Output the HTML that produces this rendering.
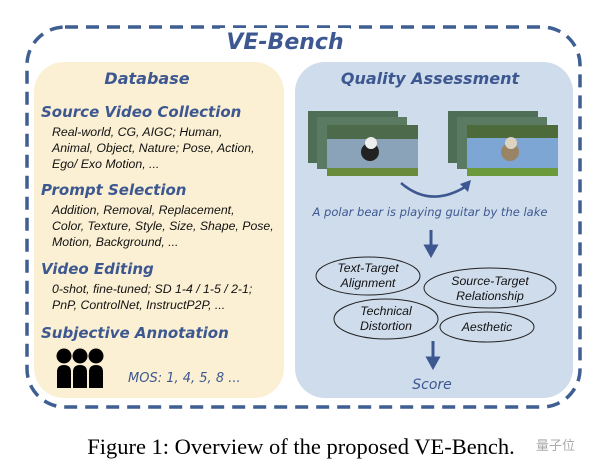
<!DOCTYPE html>
<html><head><meta charset="utf-8"><style>
body{margin:0;background:#fff;width:600px;height:470px;overflow:hidden}
svg{display:block}
.h{font-family:"DejaVu Sans",sans-serif;font-style:italic;font-weight:bold;fill:#3d5891}
.n{font-family:"DejaVu Sans",sans-serif;font-style:italic;font-weight:normal;fill:#3d5891}
.b{font-family:"Liberation Sans",sans-serif;font-style:italic;fill:#111;font-size:12.3px}
</style></head><body>
<svg width="600" height="470" viewBox="0 0 600 470">
<rect x="27" y="27" width="553" height="380" rx="38" fill="none" stroke="#3f5f93" stroke-width="3.5" stroke-dasharray="13,8"/>
<rect x="220" y="28" width="130" height="20" fill="#fff"/>
<text x="285" y="49" text-anchor="middle" class="h" font-size="22">VE-Bench</text>
<rect x="34" y="62" width="250" height="336" rx="30" fill="#fbf0d3"/>
<rect x="295" y="62" width="278" height="336" rx="30" fill="#cfdcec"/>
<text x="147" y="84" text-anchor="middle" class="h" font-size="16">Database</text>
<text x="41" y="117" class="h" font-size="15">Source Video Collection</text>
<text x="52" y="136" class="b">Real-world, CG, AIGC; Human,</text>
<text x="52" y="152" class="b">Animal, Object, Nature; Pose, Action,</text>
<text x="52" y="168" class="b">Ego/ Exo Motion, ...</text>
<text x="41" y="195" class="h" font-size="15">Prompt Selection</text>
<text x="52" y="214" class="b">Addition, Removal, Replacement,</text>
<text x="52" y="230" class="b">Color, Texture, Style, Size, Shape, Pose,</text>
<text x="52" y="246" class="b">Motion, Background, ...</text>
<text x="41" y="274" class="h" font-size="15">Video Editing</text>
<text x="52" y="293" class="b">0-shot, fine-tuned; SD 1-4 / 1-5 / 2-1;</text>
<text x="52" y="309" class="b">PnP, ControlNet, InstructP2P, ...</text>
<text x="41" y="338" class="h" font-size="15">Subjective Annotation</text>
<g fill="#000">
<circle cx="64" cy="356" r="7.5"/><circle cx="80" cy="356" r="7.5"/><circle cx="96" cy="356" r="7.5"/>
<path d="M57 388V372q0-7 7-7h0q7 0 7 7V388z"/><path d="M73 388V372q0-7 7-7q7 0 7 7V388z"/><path d="M89 388V372q0-7 7-7q7 0 7 7V388z"/>
</g>
<text x="128" y="382" class="n" font-size="13">MOS: 1, 4, 5, 8 ...</text>
<text x="430" y="84" text-anchor="middle" class="h" font-size="16">Quality Assessment</text>
<g>
<rect x="308" y="111" width="90" height="52" fill="#4e6f56"/>
<rect x="317" y="117" width="90" height="52" fill="#5a7a62"/>
<rect x="327" y="125" width="91" height="51" fill="#8aa3b8"/>
<rect x="327" y="125" width="91" height="14" fill="#4d6a4a"/>
<rect x="327" y="168" width="91" height="8" fill="#6a8a3c"/>
<circle cx="370" cy="152" r="9" fill="#222"/><circle cx="371" cy="143" r="6" fill="#eee"/>
<rect x="448" y="111" width="90" height="52" fill="#4e6f56"/>
<rect x="457" y="117" width="90" height="52" fill="#5a7a62"/>
<rect x="467" y="125" width="91" height="51" fill="#7ea6d4"/>
<rect x="467" y="125" width="91" height="13" fill="#4d6a3a"/>
<rect x="467" y="168" width="91" height="8" fill="#6a9a3c"/>
<circle cx="510" cy="152" r="9" fill="#9a8466"/><circle cx="511" cy="143" r="6" fill="#ddd4c0"/>
</g>
<path d="M401 183Q430 208 465 187" fill="none" stroke="#3d5891" stroke-width="2.5"/>
<path d="M471 180L460 184L468 192Z" fill="#3d5891"/>
<text x="430" y="216" text-anchor="middle" class="n" font-size="11.5">A polar bear is playing guitar by the lake</text>
<path d="M431 230V248M426 246L431 255L436 246Z" stroke="#3d5891" stroke-width="3" fill="#3d5891"/>
<g fill="none" stroke="#222" stroke-width="1">
<ellipse cx="368" cy="276" rx="52" ry="19"/>
<ellipse cx="490" cy="288" rx="66" ry="20"/>
<ellipse cx="386" cy="319" rx="52" ry="20"/>
<ellipse cx="487" cy="327" rx="47" ry="15"/>
</g>
<g class="b" font-size="12" text-anchor="middle">
<text x="368" y="272">Text-Target</text><text x="368" y="287">Alignment</text>
<text x="490" y="285">Source-Target</text><text x="490" y="300">Relationship</text>
<text x="386" y="315">Technical</text><text x="386" y="330">Distortion</text>
<text x="487" y="331">Aesthetic</text>
</g>
<path d="M433 341V360M428 358L433 367L438 358Z" stroke="#3d5891" stroke-width="3" fill="#3d5891"/>
<text x="432" y="389" text-anchor="middle" class="n" font-size="14">Score</text>
<text x="301" y="454" text-anchor="middle" font-family="Liberation Serif,serif" font-size="22.5" fill="#000">Figure 1: Overview of the proposed VE-Bench.</text>
<text x="536" y="450" font-family="'Noto Sans CJK SC',sans-serif" font-size="13" fill="#aaa">量子位</text>
</svg>
</body></html>
